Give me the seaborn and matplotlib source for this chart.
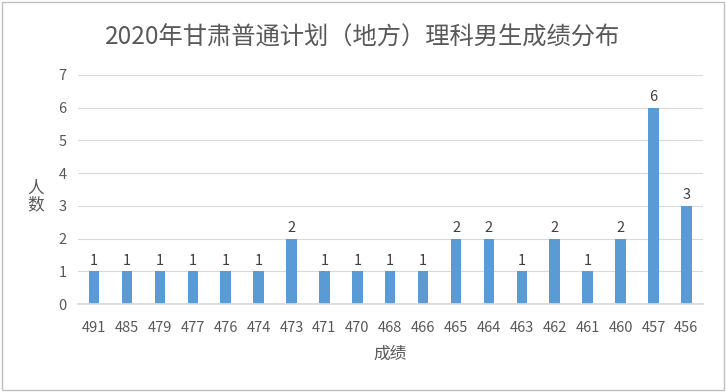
import matplotlib.pyplot as plt
import pandas as pd
import seaborn as sns
from matplotlib.patches import Rectangle

# 数据
scores = ['491', '485', '479', '477', '476', '474', '473', '471', '470', '468',
          '466', '465', '464', '463', '462', '461', '460', '457', '456']
counts = [1, 1, 1, 1, 1, 1, 2, 1, 1, 1, 1, 2, 2, 1, 2, 1, 2, 6, 3]
y_ticks = [0, 1, 2, 3, 4, 5, 6, 7]

sns.set_theme(style='white')
plt.rcParams['font.family'] = ['Noto Sans CJK SC', 'DejaVu Sans']

df = pd.DataFrame({'成绩': scores, '人数': counts})

fig = plt.figure(figsize=(7.26, 3.92), dpi=100)
ax = fig.add_axes([0.107, 0.224, 0.861, 0.585])

sns.barplot(data=df, x='成绩', y='人数', color='#5B9BD5', width=0.32,
            saturation=1, linewidth=0, ax=ax)

ax.set_ylim(0, 7)
ax.set_yticks(y_ticks)
ax.yaxis.grid(True, color='#D9D9D9', linewidth=0.8)
ax.set_axisbelow(True)
for s in ['top', 'right', 'left']:
    ax.spines[s].set_visible(False)
ax.spines['bottom'].set_color('#D9D9D9')
ax.tick_params(axis='x', length=0, labelsize=10.5, colors='#595959', pad=12)
ax.tick_params(axis='y', length=0, labelsize=10.5, colors='#595959', pad=8)

for i, v in enumerate(counts):
    ax.text(i, v + 0.12, str(v), ha='center', va='bottom', fontsize=10.5, color='#404040')

ax.set_xlabel('成绩', fontsize=12, color='#595959', labelpad=8)
ax.set_ylabel('人\n数', fontsize=12, color='#595959', rotation=0,
              va='center', linespacing=1.0)
ax.yaxis.set_label_coords(-0.068, 0.47)

fig.text(0.5, 0.905, '2020年甘肃普通计划（地方）理科男生成绩分布', ha='center', va='center',
         fontsize=17.5, color='#595959')

fig.patches.append(Rectangle((0.003, 0.005), 0.994, 0.99, transform=fig.transFigure,
                             fill=False, edgecolor='#BFBFBF', linewidth=1))

fig.savefig('out.png', dpi=100)
